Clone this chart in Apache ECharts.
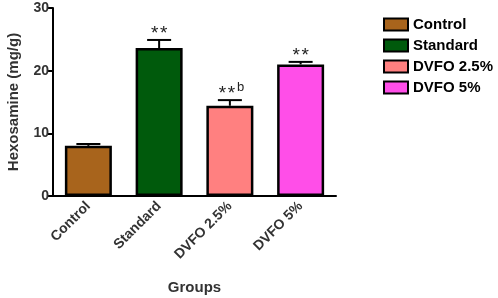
<!DOCTYPE html>
<html>
<head>
<meta charset="utf-8">
<script src="https://cdn.jsdelivr.net/npm/echarts@6/dist/echarts.min.js"></script>
<style>
html, body { margin: 0; padding: 0; background: #fff; }
#main { width: 498px; height: 298px; }
</style>
</head>
<body>
<div id="main"></div>
<script>
var groups = ['Control', 'Standard', 'DVFO 2.5%', 'DVFO 5%'];
var means = [8.0, 23.6, 14.4, 21.0];
var errors = [0.3, 1.3, 0.9, 0.4];
var stars = [0, 2, 2, 2];
var subMarks = ['', '', 'b', ''];
var colors = ['#a8641c', '#005a0c', '#ff8080', '#ff4ee8'];

var chart = echarts.init(document.getElementById('main'));
var font = 'Liberation Sans, Arial, sans-serif';

var series = groups.map(function (g, i) {
	return {
		name: g,
		type: 'bar',
		barWidth: 47,
		barGap: '-100%',
		data: groups.map(function (x, j) { return j === i ? means[i] : '-'; }),
		itemStyle: { color: colors[i], borderColor: '#000', borderWidth: 2.5 },
		z: 2
	};
});

series.push({
	type: 'custom',
	z: 5,
	data: means.map(function (m, i) { return [i, m, m + errors[i]]; }),
	renderItem: function (params, api) {
		var i = api.value(0);
		var base = api.coord([i, api.value(1)]);
		var top = api.coord([i, api.value(2)]);
		var kids = [
			{ type: 'line', shape: { x1: base[0], y1: base[1], x2: top[0], y2: top[1] }, style: { stroke: '#000', lineWidth: 2 } },
			{ type: 'line', shape: { x1: top[0] - 12, y1: top[1], x2: top[0] + 12, y2: top[1] }, style: { stroke: '#000', lineWidth: 2 } }
		];
		var shift = subMarks[i] ? -3 : 0;
		for (var k = 0; k < stars[i]; k++) {
			kids.push({ type: 'text', style: { text: '*', x: top[0] + shift + (k - (stars[i] - 1) / 2) * 9, y: top[1] + 3, align: 'center', verticalAlign: 'bottom', font: '19px ' + font, fill: '#222' } });
		}
		if (subMarks[i]) {
			kids.push({ type: 'text', style: { text: subMarks[i], x: top[0] + 7, y: top[1] - 6, align: 'left', verticalAlign: 'bottom', font: '13px ' + font, fill: '#222' } });
		}
		return { type: 'group', children: kids };
	}
});

var option = {
	backgroundColor: '#fff',
	animation: false,
	textStyle: { fontFamily: font },
	grid: { left: 53, top: 8, right: 162, bottom: 102, outerBoundsMode: 'none' },
	legend: {
		orient: 'vertical',
		left: 378,
		top: 12,
		itemWidth: 24,
		itemHeight: 12,
		itemGap: 6,
		icon: 'rect',
		data: groups,
		textStyle: { fontSize: 15, fontWeight: 'bold', color: '#000', fontFamily: font }
	},
	xAxis: {
		type: 'category',
		data: groups,
		name: 'Groups',
		nameLocation: 'middle',
		nameGap: 84,
		nameTextStyle: { fontSize: 15, fontWeight: 'bold', color: '#333' },
		axisLine: { lineStyle: { color: '#000', width: 2 } },
		axisTick: { alignWithLabel: true, length: 5, lineStyle: { color: '#000', width: 2 } },
		axisLabel: { rotate: 45, fontSize: 14, fontWeight: 'bold', color: '#333', margin: 8 }
	},
	yAxis: {
		type: 'value',
		min: 0,
		max: 30,
		interval: 10,
		name: 'Hexosamine (mg/g)',
		nameLocation: 'middle',
		nameGap: 32,
		nameTextStyle: { fontSize: 15, fontWeight: 'bold', color: '#333' },
		axisLine: { show: true, lineStyle: { color: '#000', width: 2 } },
		axisTick: { show: true, length: 5, lineStyle: { color: '#000', width: 2 } },
		axisLabel: { fontSize: 14, fontWeight: 'bold', color: '#333', margin: 4 },
		splitLine: { show: false }
	},
	series: series
};
chart.setOption(option);
</script>
</body>
</html>
